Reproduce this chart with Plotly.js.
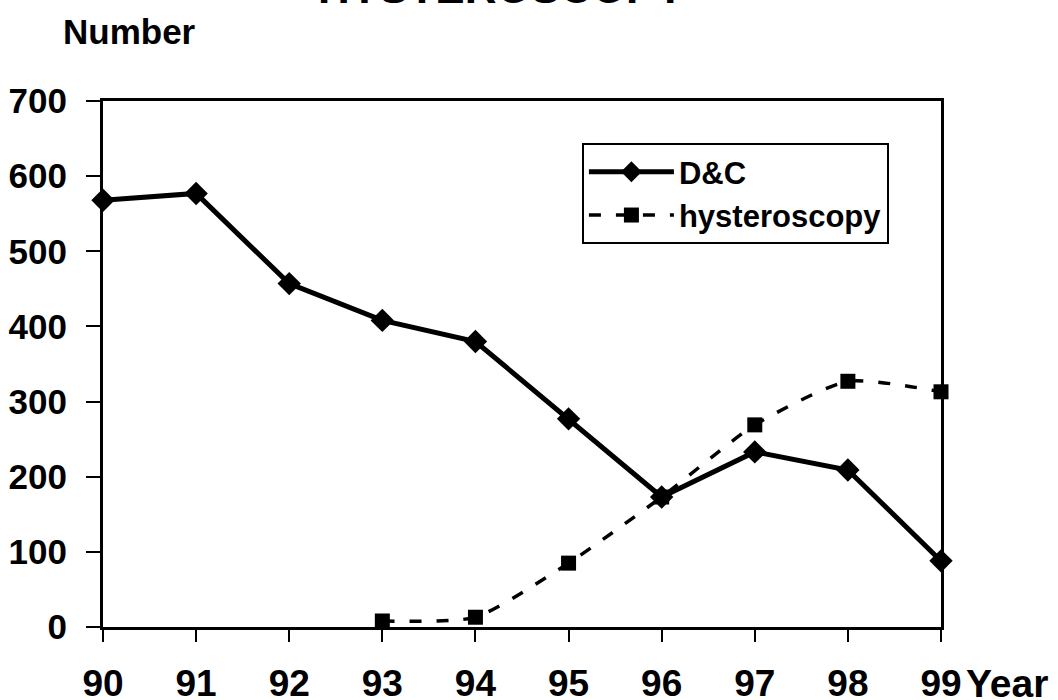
<!DOCTYPE html>
<html>
<head>
<meta charset="utf-8">
<script src="https://cdn.plot.ly/plotly-3.0.1.min.js"></script>
<style>html,body{margin:0;padding:0;background:#fff;}#chart{width:1058px;height:700px;}</style>
</head>
<body>
<div id="chart"></div>
<script>
const years = [90, 91, 92, 93, 94, 95, 96, 97, 98, 99];
const dcValues = [568, 577, 457, 408, 380, 277, 173, 233, 209, 88];
const hystYears = [93, 94, 95, 96, 97, 98, 99];
const hystValues = [8, 13, 85, 173, 269, 327, 313];
const yTicks = [0, 100, 200, 300, 400, 500, 600, 700];

const FONT = "Liberation Sans, Arial, Helvetica, sans-serif";

const traces = [
  {
    x: years, y: dcValues, name: 'D&C', type: 'scatter', mode: 'lines+markers',
    legendgroup: 'a',
    line: {color: '#000', width: 5},
    marker: {symbol: 'diamond', size: 18, color: '#000'},
    cliponaxis: false
  },
  {
    x: hystYears, y: hystValues, name: 'hysteroscopy', type: 'scatter', mode: 'lines+markers',
    legendgroup: 'b',
    line: {color: '#000', width: 3.5, dash: '12px,15px', shape: 'spline', smoothing: 0.6},
    marker: {symbol: 'square', size: 15, color: '#000'},
    cliponaxis: false
  }
];

const layout = {
  width: 1058, height: 700,
  margin: {l: 103, r: 117, t: 101, b: 73},
  paper_bgcolor: '#fff', plot_bgcolor: '#fff',
  showlegend: true,
  font: {family: FONT, color: '#000', size: 34, weight: 'bold'},
  xaxis: {
    range: [90, 99], tickmode: 'array', tickvals: years, ticktext: years.map(String),
    ticks: 'outside', ticklen: 12, tickwidth: 2, tickcolor: '#000',
    ticklabelstandoff: 10,
    showline: true, linecolor: '#000', linewidth: 3, mirror: true,
    showgrid: false, zeroline: false,
    tickfont: {family: FONT, size: 37, color: '#000', weight: 'bold'}
  },
  yaxis: {
    range: [0, 700], tickmode: 'array', tickvals: yTicks,
    ticks: 'outside', ticklen: 14, tickwidth: 2, tickcolor: '#000',
    ticklabelstandoff: 12,
    showline: true, linecolor: '#000', linewidth: 3, mirror: true,
    showgrid: false, zeroline: false,
    tickfont: {family: FONT, size: 35, color: '#000', weight: 'bold'}
  },
  legend: {
    x: 0.5715, y: 0.92, xanchor: 'left', yanchor: 'top',
    bgcolor: '#fff', bordercolor: '#000', borderwidth: 2,
    font: {family: FONT, size: 31, color: '#000', weight: 'bold'},
    itemwidth: 85, traceorder: 'grouped', tracegroupgap: 0
  },
  annotations: [
    {text: 'Number', xref: 'paper', yref: 'paper', x: -0.05, y: 1.133, xanchor: 'left', yanchor: 'middle',
     showarrow: false, font: {family: FONT, size: 35, color: '#000', weight: 'bold'}},
    {text: 'Year', xref: 'paper', yref: 'paper', x: 1.0, y: -0.108, xanchor: 'left', yanchor: 'middle',
     xshift: 23, showarrow: false, font: {family: FONT, size: 39, color: '#000', weight: 'bold'}},
    {text: 'HYSTEROSCOPY', xref: 'paper', yref: 'paper', x: 0.476, y: 1.166, xanchor: 'center', yanchor: 'bottom',
     showarrow: false, font: {family: FONT, size: 44, color: '#000', weight: 'bold'}}
  ]
};

Plotly.newPlot('chart', traces, layout, {displayModeBar: false, staticPlot: true});
</script>
</body>
</html>
